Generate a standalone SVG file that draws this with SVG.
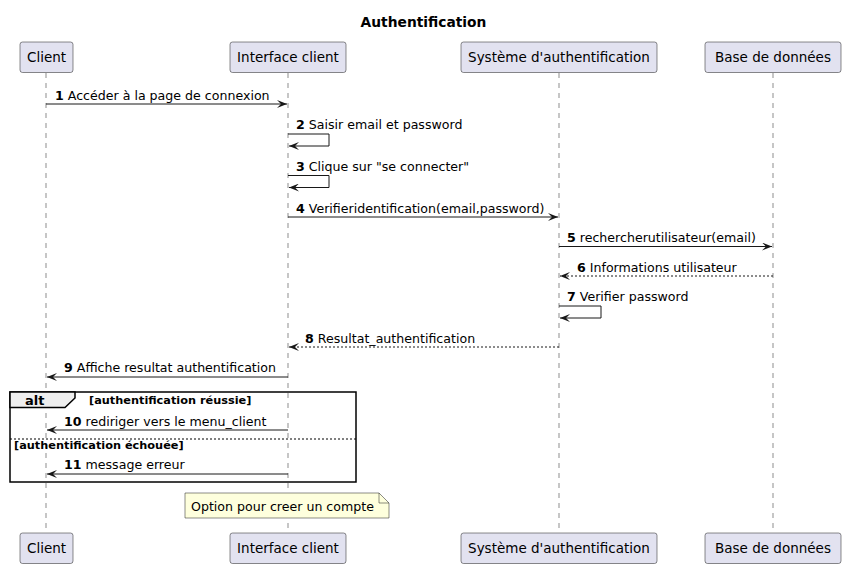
<svg xmlns="http://www.w3.org/2000/svg" width="847" height="568" viewBox="0 0 847 568">
<style>
text{font-family:"DejaVu Sans","Liberation Sans",sans-serif;fill:#000}
.p rect{fill:#E2E2F0;stroke:#181818;stroke-width:0.5}
.p text{font-size:13.5px;text-anchor:middle}
.life{stroke:#181818;stroke-width:0.5;stroke-dasharray:5,5;fill:none}
.m{stroke:#181818;stroke-width:1;fill:none}
.d{stroke-dasharray:2,2}
.t{font-size:12.6px}
.b{font-weight:bold}
.g{font-size:11.3px;font-weight:bold}
</style>
<defs>
<marker id="ah" viewBox="0 0 10 8" refX="10" refY="4" markerWidth="10" markerHeight="8" markerUnits="userSpaceOnUse" orient="auto">
<path d="M0,0 L10,4 L0,8 L4,4 Z" fill="#181818"/>
</marker>
</defs>
<rect width="847" height="568" fill="#fff"/>
<text x="423.5" y="27" font-size="13.8" font-weight="bold" text-anchor="middle">Authentification</text>
<g id="lifelines">
<line class="life" x1="46" y1="73" x2="46" y2="533"/>
<line class="life" x1="288" y1="73" x2="288" y2="533"/>
<line class="life" x1="559" y1="73" x2="559" y2="533"/>
<line class="life" x1="773" y1="73" x2="773" y2="533"/>
</g>
<g id="client" class="p">
<rect x="20" y="42" width="53" height="30.5" rx="2.5"/><text x="46.5" y="62">Client</text>
<rect x="20" y="533" width="53" height="30.5" rx="2.5"/><text x="46.5" y="553">Client</text>
</g>
<g id="interface" class="p">
<rect x="230" y="42" width="116" height="30.5" rx="2.5"/><text x="288" y="62">Interface client</text>
<rect x="230" y="533" width="116" height="30.5" rx="2.5"/><text x="288" y="553">Interface client</text>
</g>
<g id="auth" class="p">
<rect x="461" y="42" width="196" height="30.5" rx="2.5"/><text x="559" y="62">Système d'authentification</text>
<rect x="461" y="533" width="196" height="30.5" rx="2.5"/><text x="559" y="553">Système d'authentification</text>
</g>
<g id="db" class="p">
<rect x="705" y="42" width="136" height="30.5" rx="2.5"/><text x="773" y="62">Base de données</text>
<rect x="705" y="533" width="136" height="30.5" rx="2.5"/><text x="773" y="553">Base de données</text>
</g>
<g id="alt">
<rect x="10" y="392" width="346" height="90" fill="none" stroke="#000" stroke-width="1.5"/>
<path d="M10,392 L75,392 L75,398 L65,407.5 L10,407.5 Z" fill="#EEEEEE" stroke="#000" stroke-width="1.5"/>
<text x="25" y="404.5" font-size="13" class="b">alt</text>
<text x="89" y="403.5" class="g">[authentification réussie]</text>
<line x1="10" y1="439" x2="356" y2="439" stroke="#000" stroke-width="1" stroke-dasharray="2,2"/>
<text x="14" y="448.5" class="g">[authentification échouée]</text>
</g>
<g id="connectors">
<line class="m" x1="46" y1="104" x2="287" y2="104" marker-end="url(#ah)"/>
<text x="55" y="99.5" class="t"><tspan class="b">1</tspan> Accéder à la page de connexion</text>
<polyline class="m" points="288,134 329,134 329,146 289,146" marker-end="url(#ah)"/>
<text x="296" y="129" class="t"><tspan class="b">2</tspan> Saisir email et password</text>
<polyline class="m" points="288,175.5 329,175.5 329,187.5 289,187.5" marker-end="url(#ah)"/>
<text x="296" y="170.5" class="t"><tspan class="b">3</tspan> Clique sur "se connecter"</text>
<line class="m" x1="288" y1="217" x2="558" y2="217" marker-end="url(#ah)"/>
<text x="296" y="212.5" class="t"><tspan class="b">4</tspan> Verifieridentification(email,password)</text>
<line class="m" x1="559" y1="246.5" x2="772" y2="246.5" marker-end="url(#ah)"/>
<text x="567" y="242" class="t"><tspan class="b">5</tspan> rechercherutilisateur(email)</text>
<line class="m d" x1="773" y1="276" x2="560" y2="276" marker-end="url(#ah)"/>
<text x="577" y="271.5" class="t"><tspan class="b">6</tspan> Informations utilisateur</text>
<polyline class="m" points="559,306 601,306 601,318 560,318" marker-end="url(#ah)"/>
<text x="567" y="300.5" class="t"><tspan class="b">7</tspan> Verifier password</text>
<line class="m d" x1="559" y1="347" x2="289" y2="347" marker-end="url(#ah)"/>
<text x="305" y="342.5" class="t"><tspan class="b">8</tspan> Resultat_authentification</text>
<line class="m" x1="288" y1="377" x2="47" y2="377" marker-end="url(#ah)"/>
<text x="64" y="372" class="t"><tspan class="b">9</tspan> Affiche resultat authentification</text>
<line class="m" x1="288" y1="430" x2="47" y2="430" marker-end="url(#ah)"/>
<text x="64" y="425.5" class="t"><tspan class="b">10</tspan> rediriger vers le menu_client</text>
<line class="m" x1="288" y1="474" x2="47" y2="474" marker-end="url(#ah)"/>
<text x="64" y="469" class="t"><tspan class="b">11</tspan> message erreur</text>
</g>
<g id="note">
<path d="M185,493 L379,493 L389,503 L389,518 L185,518 Z" fill="#FEFFDD" stroke="#181818" stroke-width="0.5"/>
<path d="M379,493 L379,503 L389,503" fill="none" stroke="#181818" stroke-width="0.5"/>
<text x="191" y="510.5" class="t">Option pour creer un compte</text>
</g>
</svg>
